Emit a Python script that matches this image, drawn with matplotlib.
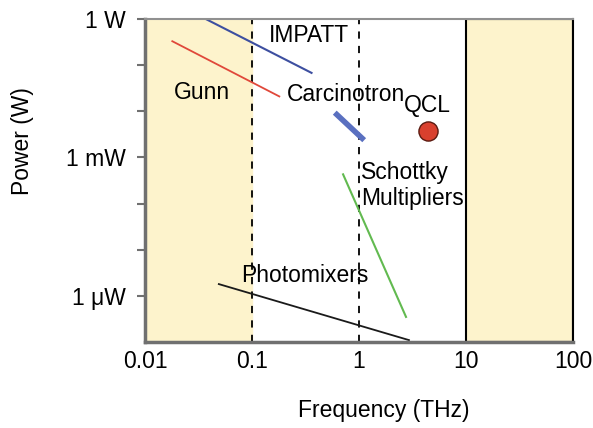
import matplotlib
matplotlib.use('Agg')
from matplotlib import pyplot as plt
from matplotlib.ticker import FixedLocator, FixedFormatter, NullLocator

plt.rcParams['font.family'] = ['Liberation Sans', 'DejaVu Sans']

# source lines: (f1, f2) THz, (p1, p2) W
impatt_f = [0.037, 0.36]
impatt_p = [1.0, 0.068]
gunn_f = [0.018, 0.18]
gunn_p = [0.33, 0.021]
carcino_f = [0.62, 1.07]
carcino_p = [0.0085, 0.0026]
schottky_f = [0.71, 2.75]
schottky_p = [4.3e-4, 3.5e-7]
photo_f = [0.049, 2.93]
photo_p = [1.8e-6, 1.1e-7]
qcl_f = [4.4]
qcl_p = [0.0038]

xticks = [0.01, 0.1, 1, 10, 100]
xlabels = ['0.01', '0.1', '1', '10', '100']
yticks = [1e-6, 1e-5, 1e-4, 1e-3, 1e-2, 1e-1, 1]
ylabels = ['1 μW', '', '', '1 mW', '', '', '1 W']

fig = plt.figure(figsize=(5.93, 4.28), dpi=100)
ax = fig.add_axes([0.2445, 0.2009, 0.7218, 0.7547])
ax.set_xscale('log')
ax.set_yscale('log')
ax.set_xlim(0.01, 100)
ax.set_ylim(1e-7, 1)

yellow = '#FDF3CC'
ax.axvspan(0.01, 0.1, color=yellow, zorder=0)
ax.axvspan(10, 100, facecolor=yellow, edgecolor='black', lw=1.5, zorder=0)
for v in [0.1, 1, 10]:
    ax.axvline(v, color='black', ls=(0, (4, 4)), lw=1.3, zorder=1)

ax.plot(impatt_f, impatt_p, color='#3D4FA0', lw=1.5)
ax.plot(gunn_f, gunn_p, color='#E0483A', lw=1.3)
ax.plot(carcino_f, carcino_p, color='#5A70C0', lw=4)
ax.plot(schottky_f, schottky_p, color='#62BA50', lw=1.5)
ax.plot(photo_f, photo_p, color='#1A1A1A', lw=1.3)
ax.scatter(qcl_f, qcl_p, s=190, color='#D9402E', edgecolor='#5a1a10', lw=1, zorder=5)

fs = 16.5
ax.text(0.34, 0.43, 'IMPATT', fontsize=fs, ha='center', va='center')
ax.text(0.034, 0.026, 'Gunn', fontsize=fs, ha='center', va='center')
ax.text(0.76, 0.023, 'Carcinotron', fontsize=fs, ha='center', va='center')
ax.text(4.4, 0.0135, 'QCL', fontsize=fs, ha='center', va='center')
ax.text(1.05, 2.5e-4, 'Schottky\nMultipliers', fontsize=fs, ha='left', va='center',
        linespacing=1.15)
ax.text(0.31, 2.7e-6, 'Photomixers', fontsize=fs, ha='center', va='center')

ax.xaxis.set_major_locator(FixedLocator(xticks))
ax.xaxis.set_major_formatter(FixedFormatter(xlabels))
ax.xaxis.set_minor_locator(NullLocator())
ax.yaxis.set_major_locator(FixedLocator(yticks))
ax.yaxis.set_major_formatter(FixedFormatter(ylabels))
ax.yaxis.set_minor_locator(NullLocator())
ax.tick_params(axis='x', length=0, pad=6, labelsize=fs)
ax.tick_params(axis='y', length=6, width=1.5, color='#707070', pad=8, labelsize=fs)

ax.spines['left'].set_color('#707070')
ax.spines['left'].set_linewidth(2.5)
ax.spines['bottom'].set_color('#707070')
ax.spines['bottom'].set_linewidth(2.5)
ax.spines['top'].set_color('#909090')
ax.spines['top'].set_linewidth(1.5)
ax.spines['right'].set_color('black')
ax.spines['right'].set_linewidth(1.5)

fig.text(384 / 593, 1 - 410 / 428, 'Frequency (THz)', fontsize=fs, ha='center', va='center')
fig.text(22 / 593, 1 - 141 / 428, 'Power (W)', fontsize=fs, ha='center', va='center',
         rotation=90)

fig.savefig('out.png', dpi=100)
